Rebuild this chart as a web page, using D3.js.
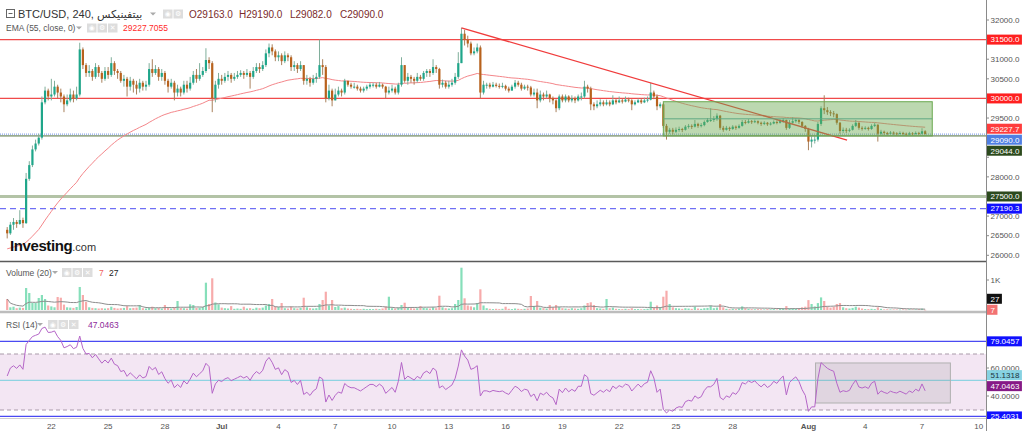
<!DOCTYPE html>
<html>
<head>
<meta charset="utf-8">
<script src="https://cdn.jsdelivr.net/npm/d3@7"></script>
<style>
  html, body { margin: 0; padding: 0; background: #fff; }
  svg { display: block; font-family: "Liberation Sans", Arial, "DejaVu Sans", sans-serif; }
</style>
</head>
<body>
<svg id="chart" width="1024" height="431"></svg>
<script>
// ---- data (BTC/USD, 4h candles) ----
const startTime = Date.UTC(2023, 5, 19, 16);
const firstOpen = 26650;

const closes = [
  26560, 26780,
  26850, 26800, 26900, 26820, 27950, 28300,
  28700, 28850, 29000, 29900, 30200, 30050,
  30100, 30300, 30150, 30050, 29850, 29950,
  30100, 30000, 30100, 31250, 30850, 30650,
  30700, 30550, 30800, 30650, 30500, 30700,
  30600, 30900, 30700, 30650, 30450, 30500,
  30300, 30450, 30350, 30250, 30400, 30300,
  30350, 30750, 30650, 30750, 30550, 30650,
  30450, 30300, 30400, 30150, 30250, 30150,
  30350, 30250, 30400, 30600, 30500, 30600,
  30700, 30980, 30900, 30000, 30350, 30500,
  30450, 30550, 30600, 30500, 30550, 30600,
  30650, 30600, 30650, 30550, 30700, 30800,
  30750, 30850, 31150, 31300, 31200, 31050,
  31100, 30950, 31100, 31050, 30800, 30850,
  30750, 30850, 30450, 30500, 30400, 30500,
  30550, 30850, 30800, 30000, 30200, 29950,
  30100, 30200, 30150, 30450, 30350, 30300,
  30300, 30250, 30200, 30250, 30300, 30350,
  30350, 30300, 30350, 30300, 30150, 30200,
  30250, 30150, 30350, 30850, 30450, 30550,
  30500, 30450, 30550, 30500, 30650, 30700,
  30650, 30800, 30750, 30350, 30400, 30300,
  30350, 30400, 30550, 30900, 31650, 31500,
  31400, 31150, 31200, 31300, 30150, 30350,
  30350, 30300, 30350, 30320, 30300, 30320,
  30250, 30200, 30300, 30400, 30350, 30250,
  30300, 30280, 30100, 30150, 29950, 30100,
  30050, 30100, 30000, 29950, 29750, 30050,
  29950, 30050, 29950, 30000, 29950, 30050,
  30050, 30300, 30250, 29850, 29800, 29850,
  29900, 29850, 29900, 29850, 29950, 29900,
  29950, 29920, 29970, 29950, 29850, 29900,
  29950, 29900, 29950, 29970, 30150, 30050,
  29800, 29850, 29300, 29150, 29200, 29150,
  29200, 29220, 29200, 29280, 29300, 29280,
  29350, 29300, 29320, 29400, 29450, 29450,
  29480, 29560, 29250, 29200, 29250, 29220,
  29280, 29250, 29300, 29400, 29380, 29420,
  29400, 29420, 29380, 29350, 29380, 29340,
  29360, 29400, 29380, 29420, 29450, 29250,
  29380, 29420, 29450, 29400, 29300, 29220,
  28900, 28950, 28950, 29350, 29750, 29700,
  29650, 29620, 29600, 29380, 29170, 29200,
  29180, 29200, 29300, 29380, 29250, 29230,
  29250, 29220, 29300, 29330, 29100, 29150,
  29120, 29100, 29130, 29110, 29100, 29120,
  29100, 29080, 29110, 29090, 29120, 29100,
  29163, 29090
];

const highs = [
  26720, 26850,
  26950, 26900, 27150, 26960, 28100, 28400,
  28800, 28950, 29100, 30050, 30300, 30250,
  30500, 30450, 30350, 30250, 30100, 30100,
  30250, 30200, 30300, 31420, 31300, 30900,
  30850, 30750, 30900, 30850, 30700, 30800,
  30800, 31050, 30950, 30750, 30700, 30600,
  30550, 30550, 30500, 30450, 30500, 30450,
  30450, 30900, 31000, 30850, 30800, 30750,
  30700, 30500, 30500, 30450, 30350, 30300,
  30450, 30450, 30550, 30700, 30750, 30900,
  30800, 31280, 31050, 30950, 30450, 30650,
  30600, 30650, 30700, 30650, 30650, 30700,
  30720, 30700, 30750, 30700, 30800, 30900,
  30900, 30950, 31250, 31400, 31380, 31250,
  31200, 31150, 31200, 31150, 31100, 30950,
  30900, 30950, 30850, 30600, 30550, 30600,
  30650, 31500, 31000, 30850, 30350, 30250,
  30250, 30300, 30250, 30500, 30450, 30400,
  30400, 30350, 30300, 30300, 30350, 30400,
  30400, 30400, 30420, 30380, 30320, 30300,
  30350, 30300, 30400, 31050, 30850, 30650,
  30600, 30550, 30650, 30600, 30700, 30750,
  30750, 31000, 30850, 30780, 30480, 30450,
  30450, 30500, 30650, 31180, 31800, 31750,
  31600, 31450, 31300, 31400, 31350, 30450,
  30400, 30400, 30420, 30400, 30380, 30400,
  30350, 30300, 30350, 30470, 30450, 30400,
  30350, 30350, 30320, 30250, 30250, 30200,
  30150, 30200, 30120, 30050, 29980, 30100,
  30100, 30100, 30080, 30080, 30050, 30100,
  30150, 30450, 30350, 30300, 29900, 29950,
  29980, 29950, 29970, 29950, 30080, 30000,
  30050, 30000, 30050, 30020, 29980, 29950,
  30000, 30000, 30020, 30050, 30400, 30200,
  30100, 29900, 29880, 29350, 29250, 29250,
  29260, 29280, 29250, 29320, 29350, 29340,
  29450, 29380, 29370, 29440, 29500, 29750,
  29550, 29620, 29580, 29300, 29300, 29280,
  29320, 29310, 29340, 29450, 29450, 29470,
  29450, 29460, 29440, 29410, 29420, 29400,
  29400, 29440, 29440, 29470, 29500, 29460,
  29450, 29520, 29500, 29480, 29420, 29320,
  29250, 29050, 29050, 29400, 29800, 30080,
  29780, 29700, 29680, 29620, 29400, 29260,
  29250, 29240, 29340, 29450, 29390, 29290,
  29290, 29280, 29340, 29380, 29340, 29200,
  29180, 29150, 29170, 29160, 29140, 29160,
  29150, 29130, 29150, 29140, 29160, 29150,
  29240, 29190
];

const lows = [
  26430, 26520,
  26650, 26700, 26780, 26700, 26800, 27900,
  28250, 28650, 28800, 28950, 29850, 29950,
  29950, 30050, 30000, 29900, 29650, 29800,
  29900, 29900, 29950, 30050, 30750, 30550,
  30550, 30450, 30500, 30550, 30400, 30450,
  30500, 30550, 30600, 30500, 30400, 30300,
  30050, 30200, 30150, 30100, 30150, 30200,
  30200, 30300, 30550, 30600, 30450, 30450,
  30350, 30150, 30250, 29950, 30050, 30050,
  30100, 30150, 30200, 30350, 30400, 30450,
  30550, 30650, 30750, 29650, 29900, 30250,
  30350, 30400, 30450, 30400, 30450, 30500,
  30550, 30500, 30550, 30250, 30500, 30650,
  30650, 30700, 30800, 31050, 31100, 30950,
  30950, 30850, 30900, 30950, 30700, 30700,
  30650, 30700, 30350, 30350, 30300, 30350,
  30400, 30500, 30600, 29900, 29950, 29800,
  29950, 30050, 30050, 30100, 30300, 30250,
  30250, 30200, 30150, 30150, 30200, 30250,
  30280, 30250, 30280, 30250, 30000, 30100,
  30150, 30100, 30100, 30300, 30400, 30350,
  30400, 30350, 30400, 30450, 30450, 30550,
  30550, 30600, 30650, 30250, 30280, 30250,
  30250, 30300, 30350, 30500, 30900, 31350,
  31300, 31100, 31100, 31150, 30000, 30100,
  30250, 30250, 30280, 30280, 30250, 30260,
  30200, 30150, 30200, 30250, 30300, 30200,
  30220, 30200, 30050, 30050, 29750, 29900,
  29950, 30000, 29900, 29850, 29650, 29700,
  29900, 29900, 29900, 29900, 29880, 29920,
  29950, 30000, 30150, 29700, 29700, 29750,
  29800, 29800, 29820, 29800, 29830, 29850,
  29880, 29870, 29900, 29900, 29700, 29820,
  29880, 29860, 29880, 29900, 29950, 29980,
  29700, 29750, 29250, 28950, 29100, 29080,
  29120, 29150, 29140, 29180, 29230, 29220,
  29260, 29250, 29260, 29290, 29380, 29400,
  29400, 29430, 29200, 29150, 29180, 29170,
  29200, 29200, 29230, 29280, 29340, 29360,
  29350, 29370, 29340, 29300, 29320, 29300,
  29310, 29340, 29340, 29360, 29380, 29200,
  29220, 29350, 29380, 29350, 29250, 29150,
  28680, 28750, 28850, 28900, 29300, 29600,
  29580, 29550, 29520, 29330, 29100, 29120,
  29120, 29140, 29180, 29270, 29200, 29180,
  29200, 29180, 29200, 29270, 28900, 29050,
  29070, 29060, 29080, 29070, 29050, 29080,
  29060, 29040, 29070, 29050, 29080, 29060,
  29080, 29082
];

const volumes = [
  367, 90,
  110, 60, 80, 70, 733, 567,
  233, 233, 400, 500, 367, 150,
  120, 90, 433, 410, 180, 90,
  80, 70, 100, 767, 500, 277,
  90, 70, 60, 50, 60, 50,
  60, 110, 70, 50, 60, 70,
  130, 60, 70, 80, 167, 60,
  50, 80, 110, 60, 70, 50,
  167, 70, 50, 90, 300, 70,
  60, 50, 190, 167, 70, 80,
  100, 910, 200, 1057, 250, 190,
  80, 60, 50, 130, 40, 50,
  40, 110, 50, 60, 40, 77,
  60, 80, 150, 200, 367, 120,
  100, 233, 60, 50, 110, 60,
  50, 70, 410, 90, 60, 50,
  60, 200, 333, 610, 150, 333,
  100, 130, 60, 80, 50, 40,
  30, 40, 30, 40, 30, 35,
  30, 40, 30, 50, 120, 443,
  60, 50, 80, 167, 243, 70,
  60, 50, 60, 130, 70, 60,
  50, 90, 60, 477, 90, 60,
  50, 60, 200, 333, 1410, 390,
  150, 120, 90, 233, 690, 150,
  60, 40, 30, 40, 30, 40,
  110, 40, 30, 50, 40, 30,
  40, 50, 467, 120, 300, 80,
  60, 50, 167, 90, 167, 100,
  60, 50, 40, 60, 50, 40,
  60, 150, 233, 257, 167, 60,
  50, 40, 367, 60, 80, 40,
  30, 30, 40, 30, 60, 30,
  30, 25, 30, 40, 277, 80,
  150, 100, 443, 643, 200, 90,
  60, 50, 40, 60, 50, 40,
  110, 50, 40, 60, 70, 150,
  60, 80, 200, 90, 40, 30,
  40, 30, 50, 120, 60, 40,
  30, 25, 30, 25, 20, 30,
  25, 30, 20, 40, 60, 130,
  50, 60, 40, 50, 90, 110,
  330, 200, 120, 230, 420, 300,
  120, 80, 110, 200, 230, 90,
  60, 50, 70, 110, 80, 50,
  30, 30, 40, 30, 90, 40,
  20, 25, 20, 20, 20, 15,
  20, 15, 25, 20, 20, 30,
  45, 7
];

const emaSeed = 26150;           // EMA value just before the first visible candle
const rsiSeed = { gain: 70, loss: 52 };

const priceTicks = d3.range(26000, 32001, 500);
const resistanceLevels = [31500, 30000];
const supportLevel = 27500;
const dashedLevel = 27190.3;
const boxLevels = { top: 29916, mid: 29480, bottom: 29044 };
const boxTimes = ['2023-07-24T08:00Z', '2023-08-07T13:00Z'];
const trendTimes = ['2023-07-13T16:00Z', '2023-08-03T01:00Z'];
const trendPrices = [31800, 28940];
const rsiLevels = { upper: 79.0457, mid: 51.1318, lower: 25.4031, bandTop: 70, bandBottom: 30 };
const rsiBoxTimes = ['2023-08-01T09:00Z', '2023-08-08T12:00Z'];
const rsiBoxLevels = [63.6, 35];
const rsiTicks = [60, 40];

const timeTicks = ['2023-06-22', '2023-06-25', '2023-06-28', '2023-07-01', '2023-07-04', '2023-07-07',
  '2023-07-10', '2023-07-13', '2023-07-16', '2023-07-19', '2023-07-22', '2023-07-25', '2023-07-28',
  '2023-08-01', '2023-08-04', '2023-08-07', '2023-08-10'];
const timeLabels = ['22', '25', '28', 'Jul', '4', '7', '10', '13', '16', '19', '22', '25', '28', 'Aug', '4', '7', '10'];

// ---- derived series ----
const STEP = 4 * 3600e3;
const candles = closes.map((c, i) => ({
  t: new Date(startTime + i * STEP),
  o: i ? closes[i - 1] : firstOpen,
  h: highs[i], l: lows[i], c, v: volumes[i]
}));
candles.forEach(d => { d.up = d.c >= d.o; });

const alpha = 2 / (55 + 1);
let e = emaSeed;
const ema = closes.map(c => (e = e + alpha * (c - e)));

let ag = rsiSeed.gain, al = rsiSeed.loss;
const rsi = candles.map(d => {
  const ch = d.c - d.o;
  ag = (ag * 13 + Math.max(ch, 0)) / 14;
  al = (al * 13 + Math.max(-ch, 0)) / 14;
  return 100 - 100 / (1 + ag / al);
});

const volMa = volumes.map((v, i) => d3.mean(volumes.slice(Math.max(0, i - 19), i + 1)));

// ---- layout ----
const svg = d3.select('#chart');
const axisX = 986;
const main = { top: 0, bottom: 262 };
const vol = { top: 262, bottom: 312 };
const rp = { top: 312, bottom: 418 };

const x = d3.scaleUtc()
  .domain([new Date(Date.UTC(2023, 6, 1)), new Date(Date.UTC(2023, 7, 7))])
  .range([221.7, 922]);
const y = d3.scaleLinear().domain([26000, 32000]).range([255.3, 20]);
const yv = d3.scaleLinear().domain([0, 1000]).range([310, 280]);
const yr = d3.scaleLinear().domain([40, 60]).range([396, 368]);

const defs = svg.append('defs');
[['clipMain', main], ['clipVol', vol], ['clipRsi', rp]].forEach(([id, p]) => {
  defs.append('clipPath').attr('id', id).append('rect')
    .attr('x', 0).attr('y', p.top).attr('width', axisX).attr('height', p.bottom - p.top);
});
defs.append('clipPath').attr('id', 'clipAxis').append('rect')
  .attr('x', axisX).attr('y', 0).attr('width', 1024 - axisX).attr('height', 419);

// ---- main pane ----
const gm = svg.append('g').attr('clip-path', 'url(#clipMain)');

gm.selectAll('line.res').data(resistanceLevels).join('line')
  .attr('x1', 0).attr('x2', axisX).attr('y1', d => y(d)).attr('y2', d => y(d))
  .attr('stroke', '#f04a4a').attr('stroke-width', 1.2);

gm.append('line').attr('x1', 0).attr('x2', axisX)
  .attr('y1', y(supportLevel)).attr('y2', y(supportLevel))
  .attr('stroke', '#b3c3a6').attr('stroke-width', 3);

gm.append('line').attr('x1', 0).attr('x2', axisX)
  .attr('y1', y(dashedLevel)).attr('y2', y(dashedLevel))
  .attr('stroke', '#6f6ff5').attr('stroke-width', 1.3).attr('stroke-dasharray', '6,4');

gm.append('line').attr('x1', 0).attr('x2', axisX)
  .attr('y1', y(boxLevels.bottom)).attr('y2', y(boxLevels.bottom))
  .attr('stroke', '#4f6e3c').attr('stroke-width', 1);

gm.append('line').attr('x1', 0).attr('x2', axisX)
  .attr('y1', y(29090)).attr('y2', y(29090))
  .attr('stroke', '#6d8fe8').attr('stroke-width', 1).attr('stroke-dasharray', '1,1');

// EMA
gm.append('path').datum(ema)
  .attr('fill', 'none').attr('stroke', '#f4868a').attr('stroke-width', 1)
  .attr('d', d3.line().x((d, i) => x(candles[i].t)).y(d => y(d)));

// candles
gm.selectAll('line.wick').data(candles).join('line')
  .attr('x1', d => x(d.t)).attr('x2', d => x(d.t))
  .attr('y1', d => y(d.h)).attr('y2', d => y(d.l))
  .attr('stroke', d => d.up ? '#7fae9a' : '#a9805c').attr('stroke-width', 1);

gm.selectAll('rect.body').data(candles).join('rect')
  .attr('x', d => x(d.t) - 1.1).attr('width', 2.2)
  .attr('y', d => y(Math.max(d.o, d.c)))
  .attr('height', d => Math.max(1, Math.abs(y(d.o) - y(d.c))))
  .attr('fill', d => d.up ? '#1fa68a' : '#b8621d');

// trend line
gm.append('line')
  .attr('x1', x(new Date(trendTimes[0]))).attr('y1', y(trendPrices[0]))
  .attr('x2', x(new Date(trendTimes[1]))).attr('y2', y(trendPrices[1]))
  .attr('stroke', '#f03c3c').attr('stroke-width', 1.3);

// range box
const bx0 = x(new Date(boxTimes[0])), bx1 = x(new Date(boxTimes[1]));
gm.append('rect').attr('x', bx0).attr('width', bx1 - bx0)
  .attr('y', y(boxLevels.top)).attr('height', y(boxLevels.bottom) - y(boxLevels.top))
  .attr('fill', '#6aa84f').attr('fill-opacity', 0.45).attr('stroke', '#6aa84f').attr('stroke-width', 1);
gm.append('line').attr('x1', bx0).attr('x2', bx1)
  .attr('y1', y(boxLevels.mid)).attr('y2', y(boxLevels.mid))
  .attr('stroke', '#5fa884').attr('stroke-width', 1);

// logo
const logo = svg.append('text').attr('x', 10).attr('y', 251).attr('fill', '#111');
logo.append('tspan').attr('font-size', 15).attr('font-weight', 'bold').attr('letter-spacing', -0.4).text('Investing');
logo.append('tspan').attr('font-size', 11).attr('fill', '#333').text('.com');

// ---- volume pane ----
const gv = svg.append('g').attr('clip-path', 'url(#clipVol)');
gv.selectAll('rect').data(candles).join('rect')
  .attr('x', d => x(d.t) - 1.1).attr('width', 2.2)
  .attr('y', d => yv(d.v)).attr('height', d => Math.max(0.6, yv(0) - yv(d.v)))
  .attr('fill', d => d.up ? '#86dfba' : '#f7abab');
gv.append('path').datum(volMa)
  .attr('fill', 'none').attr('stroke', '#8d8d8d').attr('stroke-width', 1)
  .attr('d', d3.line().x((d, i) => x(candles[i].t)).y(d => yv(d)));

// ---- RSI pane ----
const gr = svg.append('g').attr('clip-path', 'url(#clipRsi)');
gr.append('rect').attr('x', 0).attr('width', axisX)
  .attr('y', yr(rsiLevels.bandTop)).attr('height', yr(rsiLevels.bandBottom) - yr(rsiLevels.bandTop))
  .attr('fill', '#f3e6f3');
[rsiLevels.bandTop, rsiLevels.bandBottom].forEach(v => {
  gr.append('line').attr('x1', 0).attr('x2', axisX).attr('y1', yr(v)).attr('y2', yr(v))
    .attr('stroke', '#a99aa9').attr('stroke-width', 1).attr('stroke-dasharray', '4,3');
});
[rsiLevels.upper, rsiLevels.lower].forEach(v => {
  gr.append('line').attr('x1', 0).attr('x2', axisX).attr('y1', yr(v)).attr('y2', yr(v))
    .attr('stroke', '#4a4af2').attr('stroke-width', 1.2);
});
gr.append('line').attr('x1', 0).attr('x2', axisX)
  .attr('y1', yr(rsiLevels.mid)).attr('y2', yr(rsiLevels.mid))
  .attr('stroke', '#8fd3e2').attr('stroke-width', 1.2);
const rbx0 = x(new Date(rsiBoxTimes[0])), rbx1 = x(new Date(rsiBoxTimes[1]));
gr.append('rect').attr('x', rbx0).attr('width', rbx1 - rbx0)
  .attr('y', yr(rsiBoxLevels[0])).attr('height', yr(rsiBoxLevels[1]) - yr(rsiBoxLevels[0]))
  .attr('fill', '#8a8a8a').attr('fill-opacity', 0.18).attr('stroke', '#b0b0b0');
gr.append('path').datum(rsi)
  .attr('fill', 'none').attr('stroke', '#b566c8').attr('stroke-width', 1)
  .attr('d', d3.line().x((d, i) => x(candles[i].t)).y(d => yr(d)));

// ---- separators & axes ----
svg.append('line').attr('x1', 0).attr('x2', axisX).attr('y1', 261.5).attr('y2', 261.5)
  .attr('stroke', '#5a5a5a').attr('stroke-width', 1.5);
svg.append('line').attr('x1', 0).attr('x2', axisX).attr('y1', 312).attr('y2', 312)
  .attr('stroke', '#bdbdbd').attr('stroke-width', 2.5);
svg.append('line').attr('x1', 0).attr('x2', axisX).attr('y1', 418.5).attr('y2', 418.5)
  .attr('stroke', '#d0d0d0').attr('stroke-width', 1);
svg.append('line').attr('x1', axisX + 0.5).attr('x2', axisX + 0.5).attr('y1', 0).attr('y2', 431)
  .attr('stroke', '#8a8a8a').attr('stroke-width', 1);

// value labels on the price scale: stack them so they do not cover each other
function layout(list, dir) {
  const sorted = list.map(d => ({ ...d })).sort((a, b) => dir * (a.y - b.y));
  let prev = null;
  sorted.forEach(d => {
    if (prev !== null) d.y = dir > 0 ? Math.max(d.y, prev + 11) : Math.min(d.y, prev - 11);
    prev = d.y;
  });
  return sorted;
}
const mainLabels = layout([
  { y: y(31500), text: '31500.0', bg: '#ff2020' },
  { y: y(30000), text: '30000.0', bg: '#ff2020' },
  { y: y(29227.7), text: '29227.7', bg: '#ff3d3d' },
  { y: y(29090), text: '29090.0', bg: '#4f7fe3' },
  { y: y(29044), text: '29044.0', bg: '#2c4a1d' },
  { y: y(27500), text: '27500.0', bg: '#2c4a1d' },
  { y: y(27190.3), text: '27190.3', bg: '#1010ff' }
], 1);
const volLabels = layout([
  { y: yv(7), text: '7', bg: '#f27272' },
  { y: yv(27), text: '27', bg: '#111' }
], -1);
const rsiLabels = layout([
  { y: yr(25.4031), text: '25.4031', bg: '#1010ff' },
  { y: yr(47.0463), text: '47.0463', bg: '#861a86' },
  { y: yr(51.1318), text: '51.1318', bg: '#86d2e2', fg: '#1d3440' },
  { y: yr(79.0457), text: '79.0457', bg: '#1010ff' }
], -1);
const allLabels = mainLabels.concat(volLabels, rsiLabels);

const ga = svg.append('g').attr('font-size', 8).attr('fill', '#555');
function tick(yPos, label) {
  ga.append('line').attr('x1', axisX).attr('x2', axisX + 3).attr('y1', yPos).attr('y2', yPos).attr('stroke', '#8a8a8a');
  if (allLabels.some(l => Math.abs(l.y - yPos) < 7)) return; // hidden behind a value label
  ga.append('text').attr('x', 990.5).attr('y', yPos).attr('dy', '0.35em').text(label);
}
priceTicks.forEach(v => tick(y(v), v.toFixed(1)));
tick(yv(1000), '1K');
rsiTicks.forEach(v => tick(yr(v), v.toFixed(4)));

const gl = svg.append('g').attr('clip-path', 'url(#clipAxis)');
allLabels.forEach(d => {
  const g = gl.append('g');
  const t = g.append('text').attr('x', 990.5).attr('y', d.y).attr('dy', '0.35em')
    .attr('font-size', 8).attr('fill', d.fg || '#fff').text(d.text);
  const w = t.node().getComputedTextLength();
  g.insert('rect', 'text').attr('x', 987).attr('y', d.y - 5).attr('width', w + 6).attr('height', 10).attr('fill', d.bg);
});

svg.append('g').attr('font-size', 8).attr('fill', '#555')
  .selectAll('text').data(timeTicks).join('text')
  .attr('x', d => x(new Date(d + 'T00:00Z'))).attr('y', 426).attr('dy', '0.35em')
  .attr('text-anchor', 'middle')
  .attr('font-weight', (d, i) => /[A-Za-z]/.test(timeLabels[i]) ? 'bold' : 'normal')
  .text((d, i) => timeLabels[i]);

// ---- legends ----
function icons(x0, yc, n) {
  const glyphs = ['◉', '⚙', '✕'];
  for (let i = 0; i < n; i++) {
    svg.append('rect').attr('x', x0 + i * 10.5).attr('y', yc - 4.5).attr('width', 9.5).attr('height', 9).attr('fill', '#dddddd');
    svg.append('text').attr('x', x0 + i * 10.5 + 4.75).attr('y', yc).attr('dy', '0.35em')
      .attr('text-anchor', 'middle').attr('font-size', 7).attr('fill', '#fff').text(glyphs[i]);
  }
}
function arrow(x0, yc) {
  svg.append('path').attr('d', `M${x0},${yc - 1.5}l3,3l3,-3z`).attr('fill', '#aaa');
}

// title
svg.append('rect').attr('x', 6.5).attr('y', 9.5).attr('width', 8).attr('height', 8).attr('fill', 'none').attr('stroke', '#666');
svg.append('line').attr('x1', 8.5).attr('x2', 12.5).attr('y1', 13.5).attr('y2', 13.5).attr('stroke', '#666');
svg.append('text').attr('x', 18).attr('y', 18).attr('font-size', 11).attr('fill', '#333').text('BTC/USD, 240,');
svg.append('text').attr('x', 97).attr('y', 18).attr('font-size', 11).attr('fill', '#333')
  .attr('font-family', '"DejaVu Sans", sans-serif').text('بيتفينيكس');
arrow(150, 14);
icons(163, 14, 2);
const ohlc = [['O', '29163.0', 189], ['H', '29190.0', 239], ['L', '29082.0', 290], ['C', '29090.0', 340]];
ohlc.forEach(([k, v, px]) => {
  svg.append('text').attr('x', px).attr('y', 18).attr('font-size', 10).attr('fill', '#7a2b2b').text(k + v);
});

// EMA
svg.append('text').attr('x', 6).attr('y', 31).attr('font-size', 8.5).attr('fill', '#555').text('EMA (55, close, 0)');
arrow(76, 28);
icons(87, 28, 3);
svg.append('text').attr('x', 123).attr('y', 31).attr('font-size', 8.5).attr('fill', '#ff2b2b').text('29227.7055');

// Volume
svg.append('text').attr('x', 6).attr('y', 275.5).attr('font-size', 8.5).attr('fill', '#555').text('Volume (20)');
arrow(52, 272.5);
icons(62, 272.5, 3);
svg.append('text').attr('x', 99).attr('y', 275.5).attr('font-size', 8.5).attr('fill', '#f06060').text('7');
svg.append('text').attr('x', 109).attr('y', 275.5).attr('font-size', 8.5).attr('fill', '#222').text('27');

// RSI
svg.append('text').attr('x', 6).attr('y', 327.5).attr('font-size', 8.5).attr('fill', '#555').text('RSI (14)');
arrow(37, 324.5);
icons(48, 324.5, 3);
svg.append('text').attr('x', 88).attr('y', 327.5).attr('font-size', 8.5).attr('fill', '#8e2a9a').text('47.0463');
</script>
</body>
</html>
